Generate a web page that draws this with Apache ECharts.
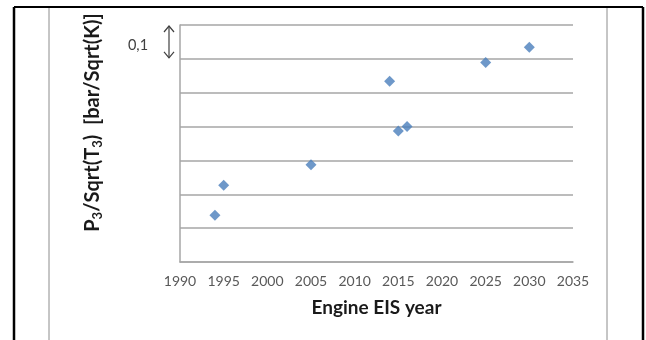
<!DOCTYPE html>
<html>
<head>
<meta charset="utf-8">
<script src="https://cdn.jsdelivr.net/npm/echarts@6/dist/echarts.min.js"></script>
<style>
  html, body { margin: 0; padding: 0; background: #fff; }
  #chart { width: 646px; height: 340px; }
</style>
</head>
<body>
<div id="chart"></div>
<script>
// Engine entry-into-service year vs. P3/sqrt(T3)
const years = [1994, 1995, 2005, 2014, 2015, 2016, 2025, 2030];
const p3OverSqrtT3 = [0.138, 0.227, 0.287, 0.534, 0.387, 0.400, 0.589, 0.634];
const xTicks = [1990, 1995, 2000, 2005, 2010, 2015, 2020, 2025, 2030, 2035];
const yStepLabel = '0,1';

const points = years.map((y, i) => [y, p3OverSqrtT3[i]]);
const FONT = 'Lato, "Open Sans", sans-serif';

const chart = echarts.init(document.getElementById('chart'), null, { renderer: 'canvas' });

chart.setOption({
  animation: false,
  backgroundColor: '#ffffff',
  grid: { left: 180, top: 25, right: 73, bottom: 78, containLabel: false },
  xAxis: {
    type: 'value',
    min: xTicks[0],
    max: xTicks[xTicks.length - 1],
    interval: 5,
    name: 'Engine EIS year',
    nameLocation: 'middle',
    nameGap: 36,
    nameTextStyle: { fontFamily: FONT, fontSize: 19, fontWeight: 'bold', color: '#1a1a1a' },
    axisLine: { show: true, lineStyle: { color: '#a6a6a6', width: 1.5 } },
    axisTick: { show: false },
    splitLine: { show: false },
    axisLabel: { fontFamily: FONT, fontSize: 14, color: '#595959', margin: 12, formatter: v => String(v) }
  },
  yAxis: {
    type: 'value',
    min: 0,
    max: 0.7,
    interval: 0.1,
    name: '{n|P}{s|3}{n|/Sqrt(T}{s|3}{n|)  [bar/Sqrt(K)]}',
    nameLocation: 'middle',
    nameRotate: 90,
    nameGap: 76,
    nameTextStyle: {
      padding: [0, 0, 0, 42],
      rich: {
        n: { fontFamily: FONT, fontSize: 20, fontWeight: 'bold', color: '#1a1a1a' },
        s: { fontFamily: FONT, fontSize: 13, fontWeight: 'bold', color: '#1a1a1a', verticalAlign: 'bottom', padding: [10, 0, 0, 0] }
      }
    },
    axisLine: { show: true, lineStyle: { color: '#a6a6a6', width: 1.5 } },
    axisTick: { show: false },
    axisLabel: { show: false },
    splitLine: { show: true, lineStyle: { color: '#a6a6a6', width: 1.5 } }
  },
  series: [{
    type: 'scatter',
    data: points,
    symbol: 'diamond',
    symbolSize: 11,
    itemStyle: { color: '#4a7ebb' }
  }]
});

// Step annotation: double arrow spanning one gridline interval, with its label
const yHi = chart.convertToPixel({ yAxisIndex: 0 }, 0.7);
const yLo = chart.convertToPixel({ yAxisIndex: 0 }, 0.6);
const ax = 169;
const stroke = { stroke: '#404040', lineWidth: 1.2 };
chart.setOption({
  graphic: [
    // page frame
    { type: 'line', shape: { x1: 14, y1: 7, x2: 643, y2: 7 }, style: { stroke: '#000', lineWidth: 2 } },
    { type: 'line', shape: { x1: 14, y1: 7, x2: 14, y2: 340 }, style: { stroke: '#000', lineWidth: 2.5 } },
    { type: 'line', shape: { x1: 643, y1: 7, x2: 643, y2: 340 }, style: { stroke: '#000', lineWidth: 2.5 } },
    { type: 'line', shape: { x1: 49, y1: 8, x2: 49, y2: 340 }, style: { stroke: '#8c8c8c', lineWidth: 1 } },
    { type: 'line', shape: { x1: 607, y1: 8, x2: 607, y2: 340 }, style: { stroke: '#8c8c8c', lineWidth: 1 } },
    // arrow
    { type: 'line', shape: { x1: ax, y1: yHi + 1, x2: ax, y2: yLo - 1 }, style: stroke },
    { type: 'polyline', shape: { points: [[ax - 5, yHi + 7], [ax, yHi + 1], [ax + 5, yHi + 7]] }, style: Object.assign({ fill: null }, stroke) },
    { type: 'polyline', shape: { points: [[ax - 5, yLo - 7], [ax, yLo - 1], [ax + 5, yLo - 7]] }, style: Object.assign({ fill: null }, stroke) },
    { type: 'text', x: 138, y: (yHi + yLo) / 2 + 3, style: { text: yStepLabel, fontFamily: FONT, fontSize: 14.5, fill: '#404040', align: 'center', verticalAlign: 'middle' } }
  ]
});
</script>
</body>
</html>
